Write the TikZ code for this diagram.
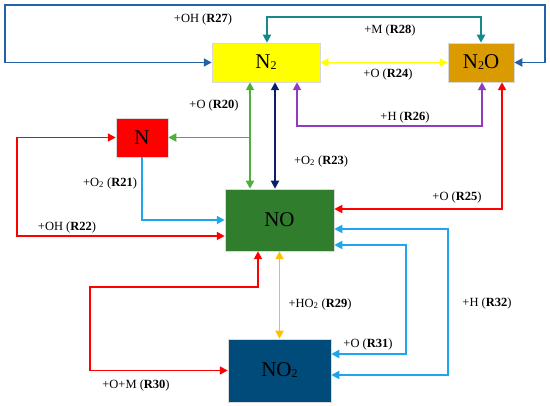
\documentclass[tikz,border=0pt]{standalone}
\usepackage{fontspec}
\setmainfont{Liberation Serif}
\usetikzlibrary{arrows.meta}
\definecolor{cYel}{RGB}{255,255,0}
\definecolor{cOra}{RGB}{218,155,0}
\definecolor{cRed}{RGB}{255,0,0}
\definecolor{cGrn}{RGB}{47,125,45}
\definecolor{cNav}{RGB}{0,75,122}
\definecolor{lBlue}{RGB}{37,97,165}
\definecolor{lTeal}{RGB}{20,138,138}
\definecolor{lPur}{RGB}{145,60,190}
\definecolor{lGrn}{RGB}{80,175,60}
\definecolor{lNavy}{RGB}{10,30,110}
\definecolor{lSky}{RGB}{30,165,235}
\definecolor{lAmb}{RGB}{255,192,0}
\newcommand{\sbt}[1]{\raisebox{-1pt}{\fontsize{12}{12}\selectfont #1}}
\tikzset{
  species/.style={draw=black!15, line width=0.5pt, inner sep=0pt, font=\fontsize{21}{21}\selectfont},
  conn/.style={line width=1.9pt, -{Triangle[length=8pt,width=8pt]}},
  dconn/.style={line width=1.9pt, {Triangle[length=8pt,width=8pt]}-{Triangle[length=8pt,width=8pt]}},
  lab/.style={inner sep=0pt, font=\fontsize{12.5}{14}\selectfont}
}
\begin{document}
\begin{tikzpicture}[x=1pt,y=-1pt]
\useasboundingbox (0,0) rectangle (550,406);
% species
\node[species, fill=cYel, minimum width=108pt, minimum height=39pt] (n2) at (266,62.5) {N\sbt{2}};
\node[species, fill=cOra, minimum width=66pt, minimum height=39pt] (n2o) at (481,62.5) {N\sbt{2}O};
\node[species, fill=cRed, minimum width=52pt, minimum height=39pt] (n) at (142,137.5) {N};
\node[species, fill=cGrn, minimum width=109pt, minimum height=62pt] (no) at (279.5,220) {NO};
\node[species, fill=cNav, minimum width=103pt, minimum height=63pt] (no2) at (279.5,370.5) {NO\sbt{2}};
% R27
\draw[dconn, lBlue] (n2.west) -| (5,5) -| (545,62.5) -- (n2o.east);
% R28
\draw[dconn, lTeal] ([xshift=1pt]n2.north) |- (400,17) -| (n2o.north);
% R24
\draw[dconn, cYel] (n2.east) -- (n2o.west);
% R26
\draw[dconn, lPur] ([xshift=31pt]n2.south) |- (400,126) -| ([xshift=1pt]n2o.south);
% R20
\draw[dconn, lGrn] ([xshift=-16pt]n2.south) -- ([xshift=-16pt]n2.south |- no.north);
\coordinate (g20) at ([xshift=-16pt]n2.south |- n.east);
\draw[conn, lGrn] (g20) -- (n.east);
% R23
\draw[dconn, lNavy] ([xshift=9pt]n2.south) -- ([xshift=9pt]n2.south |- no.north);
% R21
\draw[conn, lSky] (n.south) |- (no.west);
% R22
\draw[dconn, cRed] ([yshift=-16pt]no.west) -| (17,137.5) -- (n.west);
% R25
\draw[dconn, cRed] ([xshift=21pt]n2o.south) |- ([yshift=11pt]no.east);
% R32
\draw[dconn, lSky] ([yshift=-9pt]no.east) -| (448,375) -- ([yshift=-4.5pt]no2.east);
% R31
\draw[dconn, lSky] ([yshift=-25pt]no.east) -| (406,354) -- ([yshift=16.5pt]no2.east);
% R29
\draw[dconn, lAmb] (no.south) -- (no2.north);
% R30
\draw[dconn, cRed] ([xshift=-21.5pt]no.south) |- (90,287) |- (no2.west);
% labels
\node[lab] (l27) at (203,19) {+OH (\textbf{R27})};
\node[lab] (l28) at (390,30) {+M (\textbf{R28})};
\node[lab] (l24) at (388,74) {+O (\textbf{R24})};
\node[lab] (l26) at (405,117) {+H (\textbf{R26})};
\node[lab] (l20) at (214,105) {+O (\textbf{R20})};
\node[lab] (l21) at (110,183) {+O\textsubscript{2} (\textbf{R21})};
\node[lab] (l22) at (67,227) {+OH (\textbf{R22})};
\node[lab] (l23) at (321,161) {+O\textsubscript{2} (\textbf{R23})};
\node[lab] (l25) at (457,197) {+O (\textbf{R25})};
\node[lab] (l29) at (320,304) {+HO\textsubscript{2} (\textbf{R29})};
\node[lab] (l31) at (368,344) {+O (\textbf{R31})};
\node[lab] (l32) at (487,303) {+H (\textbf{R32})};
\node[lab] (l30) at (136,385) {+O+M (\textbf{R30})};
\end{tikzpicture}
\end{document}
